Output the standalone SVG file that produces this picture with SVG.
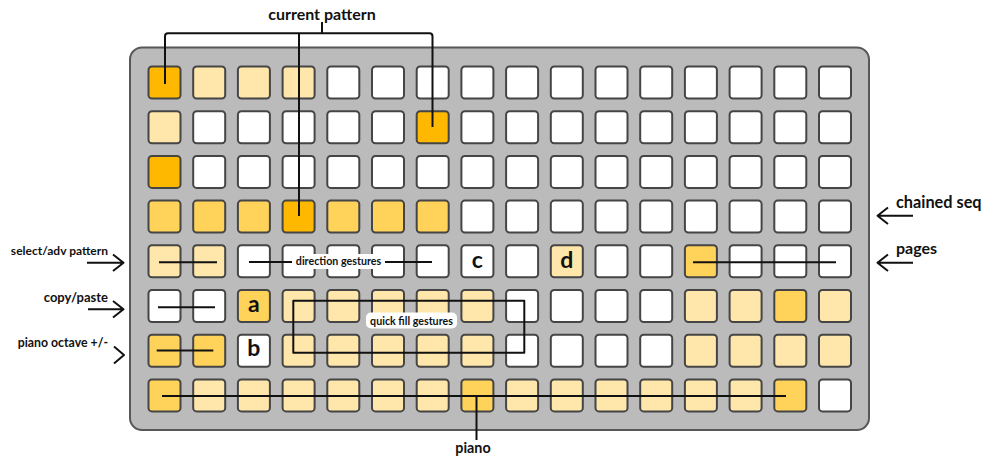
<svg xmlns="http://www.w3.org/2000/svg" width="992" height="469" viewBox="0 0 992 469">
<style>
.board{fill:#bbbbbb;stroke:#575757;stroke-width:2}
.k rect{stroke:#454545;stroke-width:2}
.d{fill:#ffb800}.m{fill:#ffd25a}.l{fill:#ffe6aa}.w{fill:#ffffff}
.ln{fill:none;stroke:#111;stroke-width:2;stroke-linecap:butt;stroke-linejoin:round}
text{font-family:Lato,"Open Sans","Liberation Sans",sans-serif;font-weight:bold;fill:#111}
.key{font-size:23px;text-anchor:middle}
.lb{fill:#fff}
</style>
<rect class="board" x="130" y="47.5" width="739" height="382.5" rx="12"/>
<g class="k">
<g id="r0c0"><rect class="d" x="148.5" y="66.5" width="32" height="32" rx="3.5"/></g>
<g id="r0c1"><rect class="l" x="193.2" y="66.5" width="32" height="32" rx="3.5"/></g>
<g id="r0c2"><rect class="l" x="237.9" y="66.5" width="32" height="32" rx="3.5"/></g>
<g id="r0c3"><rect class="l" x="282.6" y="66.5" width="32" height="32" rx="3.5"/></g>
<g id="r0c4"><rect class="w" x="327.3" y="66.5" width="32" height="32" rx="3.5"/></g>
<g id="r0c5"><rect class="w" x="372" y="66.5" width="32" height="32" rx="3.5"/></g>
<g id="r0c6"><rect class="w" x="416.7" y="66.5" width="32" height="32" rx="3.5"/></g>
<g id="r0c7"><rect class="w" x="461.4" y="66.5" width="32" height="32" rx="3.5"/></g>
<g id="r0c8"><rect class="w" x="506.1" y="66.5" width="32" height="32" rx="3.5"/></g>
<g id="r0c9"><rect class="w" x="550.8" y="66.5" width="32" height="32" rx="3.5"/></g>
<g id="r0c10"><rect class="w" x="595.5" y="66.5" width="32" height="32" rx="3.5"/></g>
<g id="r0c11"><rect class="w" x="640.2" y="66.5" width="32" height="32" rx="3.5"/></g>
<g id="r0c12"><rect class="w" x="684.9" y="66.5" width="32" height="32" rx="3.5"/></g>
<g id="r0c13"><rect class="w" x="729.6" y="66.5" width="32" height="32" rx="3.5"/></g>
<g id="r0c14"><rect class="w" x="774.3" y="66.5" width="32" height="32" rx="3.5"/></g>
<g id="r0c15"><rect class="w" x="819" y="66.5" width="32" height="32" rx="3.5"/></g>

<g id="r1c0"><rect class="l" x="148.5" y="111.2" width="32" height="32" rx="3.5"/></g>
<g id="r1c1"><rect class="w" x="193.2" y="111.2" width="32" height="32" rx="3.5"/></g>
<g id="r1c2"><rect class="w" x="237.9" y="111.2" width="32" height="32" rx="3.5"/></g>
<g id="r1c3"><rect class="w" x="282.6" y="111.2" width="32" height="32" rx="3.5"/></g>
<g id="r1c4"><rect class="w" x="327.3" y="111.2" width="32" height="32" rx="3.5"/></g>
<g id="r1c5"><rect class="w" x="372" y="111.2" width="32" height="32" rx="3.5"/></g>
<g id="r1c6"><rect class="d" x="416.7" y="111.2" width="32" height="32" rx="3.5"/></g>
<g id="r1c7"><rect class="w" x="461.4" y="111.2" width="32" height="32" rx="3.5"/></g>
<g id="r1c8"><rect class="w" x="506.1" y="111.2" width="32" height="32" rx="3.5"/></g>
<g id="r1c9"><rect class="w" x="550.8" y="111.2" width="32" height="32" rx="3.5"/></g>
<g id="r1c10"><rect class="w" x="595.5" y="111.2" width="32" height="32" rx="3.5"/></g>
<g id="r1c11"><rect class="w" x="640.2" y="111.2" width="32" height="32" rx="3.5"/></g>
<g id="r1c12"><rect class="w" x="684.9" y="111.2" width="32" height="32" rx="3.5"/></g>
<g id="r1c13"><rect class="w" x="729.6" y="111.2" width="32" height="32" rx="3.5"/></g>
<g id="r1c14"><rect class="w" x="774.3" y="111.2" width="32" height="32" rx="3.5"/></g>
<g id="r1c15"><rect class="w" x="819" y="111.2" width="32" height="32" rx="3.5"/></g>

<g id="r2c0"><rect class="d" x="148.5" y="155.9" width="32" height="32" rx="3.5"/></g>
<g id="r2c1"><rect class="w" x="193.2" y="155.9" width="32" height="32" rx="3.5"/></g>
<g id="r2c2"><rect class="w" x="237.9" y="155.9" width="32" height="32" rx="3.5"/></g>
<g id="r2c3"><rect class="w" x="282.6" y="155.9" width="32" height="32" rx="3.5"/></g>
<g id="r2c4"><rect class="w" x="327.3" y="155.9" width="32" height="32" rx="3.5"/></g>
<g id="r2c5"><rect class="w" x="372" y="155.9" width="32" height="32" rx="3.5"/></g>
<g id="r2c6"><rect class="w" x="416.7" y="155.9" width="32" height="32" rx="3.5"/></g>
<g id="r2c7"><rect class="w" x="461.4" y="155.9" width="32" height="32" rx="3.5"/></g>
<g id="r2c8"><rect class="w" x="506.1" y="155.9" width="32" height="32" rx="3.5"/></g>
<g id="r2c9"><rect class="w" x="550.8" y="155.9" width="32" height="32" rx="3.5"/></g>
<g id="r2c10"><rect class="w" x="595.5" y="155.9" width="32" height="32" rx="3.5"/></g>
<g id="r2c11"><rect class="w" x="640.2" y="155.9" width="32" height="32" rx="3.5"/></g>
<g id="r2c12"><rect class="w" x="684.9" y="155.9" width="32" height="32" rx="3.5"/></g>
<g id="r2c13"><rect class="w" x="729.6" y="155.9" width="32" height="32" rx="3.5"/></g>
<g id="r2c14"><rect class="w" x="774.3" y="155.9" width="32" height="32" rx="3.5"/></g>
<g id="r2c15"><rect class="w" x="819" y="155.9" width="32" height="32" rx="3.5"/></g>

<g id="r3c0"><rect class="m" x="148.5" y="200.6" width="32" height="32" rx="3.5"/></g>
<g id="r3c1"><rect class="m" x="193.2" y="200.6" width="32" height="32" rx="3.5"/></g>
<g id="r3c2"><rect class="m" x="237.9" y="200.6" width="32" height="32" rx="3.5"/></g>
<g id="r3c3"><rect class="d" x="282.6" y="200.6" width="32" height="32" rx="3.5"/></g>
<g id="r3c4"><rect class="m" x="327.3" y="200.6" width="32" height="32" rx="3.5"/></g>
<g id="r3c5"><rect class="m" x="372" y="200.6" width="32" height="32" rx="3.5"/></g>
<g id="r3c6"><rect class="m" x="416.7" y="200.6" width="32" height="32" rx="3.5"/></g>
<g id="r3c7"><rect class="w" x="461.4" y="200.6" width="32" height="32" rx="3.5"/></g>
<g id="r3c8"><rect class="w" x="506.1" y="200.6" width="32" height="32" rx="3.5"/></g>
<g id="r3c9"><rect class="w" x="550.8" y="200.6" width="32" height="32" rx="3.5"/></g>
<g id="r3c10"><rect class="w" x="595.5" y="200.6" width="32" height="32" rx="3.5"/></g>
<g id="r3c11"><rect class="w" x="640.2" y="200.6" width="32" height="32" rx="3.5"/></g>
<g id="r3c12"><rect class="w" x="684.9" y="200.6" width="32" height="32" rx="3.5"/></g>
<g id="r3c13"><rect class="w" x="729.6" y="200.6" width="32" height="32" rx="3.5"/></g>
<g id="r3c14"><rect class="w" x="774.3" y="200.6" width="32" height="32" rx="3.5"/></g>
<g id="r3c15"><rect class="w" x="819" y="200.6" width="32" height="32" rx="3.5"/></g>

<g id="r4c0"><rect class="l" x="148.5" y="245.3" width="32" height="32" rx="3.5"/></g>
<g id="r4c1"><rect class="l" x="193.2" y="245.3" width="32" height="32" rx="3.5"/></g>
<g id="r4c2"><rect class="w" x="237.9" y="245.3" width="32" height="32" rx="3.5"/></g>
<g id="r4c3"><rect class="w" x="282.6" y="245.3" width="32" height="32" rx="3.5"/></g>
<g id="r4c4"><rect class="w" x="327.3" y="245.3" width="32" height="32" rx="3.5"/></g>
<g id="r4c5"><rect class="w" x="372" y="245.3" width="32" height="32" rx="3.5"/></g>
<g id="r4c6"><rect class="w" x="416.7" y="245.3" width="32" height="32" rx="3.5"/></g>
<g id="r4c7"><rect class="w" x="461.4" y="245.3" width="32" height="32" rx="3.5"/><text class="key" x="477.4" y="267.5">c</text></g>
<g id="r4c8"><rect class="w" x="506.1" y="245.3" width="32" height="32" rx="3.5"/></g>
<g id="r4c9"><rect class="l" x="550.8" y="245.3" width="32" height="32" rx="3.5"/><text class="key" x="566.8" y="267.5">d</text></g>
<g id="r4c10"><rect class="w" x="595.5" y="245.3" width="32" height="32" rx="3.5"/></g>
<g id="r4c11"><rect class="w" x="640.2" y="245.3" width="32" height="32" rx="3.5"/></g>
<g id="r4c12"><rect class="m" x="684.9" y="245.3" width="32" height="32" rx="3.5"/></g>
<g id="r4c13"><rect class="w" x="729.6" y="245.3" width="32" height="32" rx="3.5"/></g>
<g id="r4c14"><rect class="w" x="774.3" y="245.3" width="32" height="32" rx="3.5"/></g>
<g id="r4c15"><rect class="w" x="819" y="245.3" width="32" height="32" rx="3.5"/></g>

<g id="r5c0"><rect class="w" x="148.5" y="290" width="32" height="32" rx="3.5"/></g>
<g id="r5c1"><rect class="w" x="193.2" y="290" width="32" height="32" rx="3.5"/></g>
<g id="r5c2"><rect class="m" x="237.9" y="290" width="32" height="32" rx="3.5"/><text class="key" x="253.9" y="311.5">a</text></g>
<g id="r5c3"><rect class="l" x="282.6" y="290" width="32" height="32" rx="3.5"/></g>
<g id="r5c4"><rect class="l" x="327.3" y="290" width="32" height="32" rx="3.5"/></g>
<g id="r5c5"><rect class="l" x="372" y="290" width="32" height="32" rx="3.5"/></g>
<g id="r5c6"><rect class="l" x="416.7" y="290" width="32" height="32" rx="3.5"/></g>
<g id="r5c7"><rect class="l" x="461.4" y="290" width="32" height="32" rx="3.5"/></g>
<g id="r5c8"><rect class="w" x="506.1" y="290" width="32" height="32" rx="3.5"/></g>
<g id="r5c9"><rect class="w" x="550.8" y="290" width="32" height="32" rx="3.5"/></g>
<g id="r5c10"><rect class="w" x="595.5" y="290" width="32" height="32" rx="3.5"/></g>
<g id="r5c11"><rect class="w" x="640.2" y="290" width="32" height="32" rx="3.5"/></g>
<g id="r5c12"><rect class="l" x="684.9" y="290" width="32" height="32" rx="3.5"/></g>
<g id="r5c13"><rect class="l" x="729.6" y="290" width="32" height="32" rx="3.5"/></g>
<g id="r5c14"><rect class="m" x="774.3" y="290" width="32" height="32" rx="3.5"/></g>
<g id="r5c15"><rect class="l" x="819" y="290" width="32" height="32" rx="3.5"/></g>

<g id="r6c0"><rect class="m" x="148.5" y="334.7" width="32" height="32" rx="3.5"/></g>
<g id="r6c1"><rect class="m" x="193.2" y="334.7" width="32" height="32" rx="3.5"/></g>
<g id="r6c2"><rect class="w" x="237.9" y="334.7" width="32" height="32" rx="3.5"/><text class="key" x="253.9" y="355.5">b</text></g>
<g id="r6c3"><rect class="l" x="282.6" y="334.7" width="32" height="32" rx="3.5"/></g>
<g id="r6c4"><rect class="l" x="327.3" y="334.7" width="32" height="32" rx="3.5"/></g>
<g id="r6c5"><rect class="l" x="372" y="334.7" width="32" height="32" rx="3.5"/></g>
<g id="r6c6"><rect class="l" x="416.7" y="334.7" width="32" height="32" rx="3.5"/></g>
<g id="r6c7"><rect class="l" x="461.4" y="334.7" width="32" height="32" rx="3.5"/></g>
<g id="r6c8"><rect class="w" x="506.1" y="334.7" width="32" height="32" rx="3.5"/></g>
<g id="r6c9"><rect class="w" x="550.8" y="334.7" width="32" height="32" rx="3.5"/></g>
<g id="r6c10"><rect class="w" x="595.5" y="334.7" width="32" height="32" rx="3.5"/></g>
<g id="r6c11"><rect class="w" x="640.2" y="334.7" width="32" height="32" rx="3.5"/></g>
<g id="r6c12"><rect class="l" x="684.9" y="334.7" width="32" height="32" rx="3.5"/></g>
<g id="r6c13"><rect class="l" x="729.6" y="334.7" width="32" height="32" rx="3.5"/></g>
<g id="r6c14"><rect class="l" x="774.3" y="334.7" width="32" height="32" rx="3.5"/></g>
<g id="r6c15"><rect class="l" x="819" y="334.7" width="32" height="32" rx="3.5"/></g>

<g id="r7c0"><rect class="m" x="148.5" y="379.4" width="32" height="32" rx="3.5"/></g>
<g id="r7c1"><rect class="l" x="193.2" y="379.4" width="32" height="32" rx="3.5"/></g>
<g id="r7c2"><rect class="l" x="237.9" y="379.4" width="32" height="32" rx="3.5"/></g>
<g id="r7c3"><rect class="l" x="282.6" y="379.4" width="32" height="32" rx="3.5"/></g>
<g id="r7c4"><rect class="l" x="327.3" y="379.4" width="32" height="32" rx="3.5"/></g>
<g id="r7c5"><rect class="l" x="372" y="379.4" width="32" height="32" rx="3.5"/></g>
<g id="r7c6"><rect class="l" x="416.7" y="379.4" width="32" height="32" rx="3.5"/></g>
<g id="r7c7"><rect class="m" x="461.4" y="379.4" width="32" height="32" rx="3.5"/></g>
<g id="r7c8"><rect class="l" x="506.1" y="379.4" width="32" height="32" rx="3.5"/></g>
<g id="r7c9"><rect class="l" x="550.8" y="379.4" width="32" height="32" rx="3.5"/></g>
<g id="r7c10"><rect class="l" x="595.5" y="379.4" width="32" height="32" rx="3.5"/></g>
<g id="r7c11"><rect class="l" x="640.2" y="379.4" width="32" height="32" rx="3.5"/></g>
<g id="r7c12"><rect class="l" x="684.9" y="379.4" width="32" height="32" rx="3.5"/></g>
<g id="r7c13"><rect class="l" x="729.6" y="379.4" width="32" height="32" rx="3.5"/></g>
<g id="r7c14"><rect class="m" x="774.3" y="379.4" width="32" height="32" rx="3.5"/></g>
<g id="r7c15"><rect class="w" x="819" y="379.4" width="32" height="32" rx="3.5"/></g>
</g>

<g id="connectors" class="ln">
<path d="M165,84 V36.3 Q165,33.3 168,33.3 H429.5 Q432.5,33.3 432.5,36.3 V127"/>
<path d="M299,33.3 V216"/>
<path d="M322,22 V33.3"/>
<path d="M159,262.3 H217"/>
<path d="M158,307.3 H215"/>
<path d="M156.7,350.5 H213.3"/>
<path d="M249,262 H432"/>
<path d="M693,262.3 H836"/>
<path d="M293.3,300.7 H524.3 V352.7 H293.3 Z"/>
<path d="M162,396 H786"/>
<path d="M476.5,396 V440"/>
<path d="M87,262.7 H123 M113,254.5 L123.5,262.7 L113,271"/>
<path d="M88,309.3 H123 M113,301 L123.5,309.3 L113,317.5"/>
<path d="M114,346.5 L124,355 L114,363.5"/>
<path d="M877.5,215.7 H913 M888,207.5 L877.5,215.7 L888,224"/>
<path d="M877.5,262.7 H913 M888,254.5 L877.5,262.7 L888,271"/>
</g>

<g id="label-current-pattern"><text x="322" y="19.5" font-size="16" text-anchor="middle">current pattern</text></g>
<g id="label-select"><text x="108" y="255" font-size="12" text-anchor="end">select/adv pattern</text></g>
<g id="label-copy"><text x="108" y="302" font-size="13" text-anchor="end">copy/paste</text></g>
<g id="label-octave"><text x="108" y="347" font-size="12.3" text-anchor="end">piano octave +/-</text></g>
<g id="label-chained"><text x="896" y="207.5" font-size="16.3">chained seq</text></g>
<g id="label-pages"><text x="896" y="253.5" font-size="16">pages</text></g>
<g id="label-direction"><rect class="lb" x="292" y="254" width="93" height="15" rx="5"/><text x="338.5" y="265" font-size="10.7" text-anchor="middle">direction gestures</text></g>
<g id="label-quickfill"><rect class="lb" x="366" y="312.5" width="91" height="16" rx="5"/><text x="411.5" y="324.5" font-size="10.7" text-anchor="middle">quick fill gestures</text></g>
<g id="label-piano"><text x="473" y="452.5" font-size="14.3" text-anchor="middle">piano</text></g>
</svg>
